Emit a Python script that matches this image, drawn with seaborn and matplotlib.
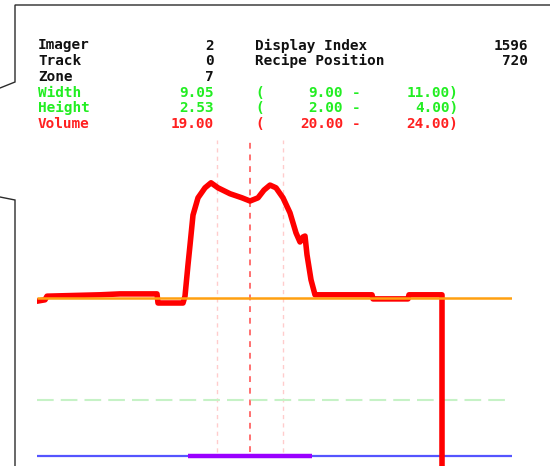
import matplotlib
matplotlib.use("Agg")
import matplotlib.pyplot as plt
from matplotlib.lines import Line2D
import seaborn as sns
import pandas as pd

# ---- header readout -------------------------------------------------------
info_labels = ["Imager", "Track", "Zone"]
info_values = ["2", "0", "7"]
info2_labels = ["Display Index", "Recipe Position"]
info2_values = ["1596", "720"]
meas_labels = ["Width", "Height", "Volume"]
meas_values = ["9.05", "2.53", "19.00"]
meas_low = ["9.00", "2.00", "20.00"]
meas_high = ["11.00", "4.00", "24.00"]
meas_colors = ["#22ee22", "#22ee22", "#ff2020"]

# ---- profile trace (sample position, height) ------------------------------
pos = [0, 8, 10, 63, 83, 120, 121, 146, 148, 151, 153, 156, 161, 168, 174,
       181, 193, 205, 213, 221, 227, 233, 239, 246, 253, 259, 263, 266, 268,
       270, 274, 278, 335, 336, 371, 372, 405, 405]
height = [-0.07, -0.04, 0.04, 0.07, 0.09, 0.09, -0.11, -0.11, 0.04, 0.73,
          1.16, 1.82, 2.20, 2.42, 2.53, 2.42, 2.29, 2.20, 2.13, 2.20, 2.37,
          2.48, 2.42, 2.20, 1.87, 1.43, 1.23, 1.34, 1.36, 0.95, 0.40, 0.07,
          0.07, -0.02, -0.02, 0.07, 0.07, -3.8]

baseline_level = 0.0
lower_limit_level = -2.24
floor_level = -3.47
bead_span = [151, 275]
gate_positions = [180, 213, 246]
gate_styles = ["side", "center", "side"]
x_range = [0, 475]

sns.set_style("white")
plt.rcParams["font.family"] = ["DejaVu Sans Mono", "DejaVu Sans"]

W, H = 550, 466
fig = plt.figure(figsize=(W / 100, H / 100), dpi=100)

# callout frame
def px_line(xs, ys, **kw):
    fig.add_artist(Line2D([x / W for x in xs], [1 - y / H for y in ys],
                          transform=fig.transFigure, **kw))

frame_kw = dict(color="#2b2b2b", lw=1.0, solid_joinstyle="miter")
px_line([0, 15, 15, W], [88, 82, 5, 5], **frame_kw)
px_line([0, 15, 15], [197, 200, H], **frame_kw)

# header text
def px_text(x, y, s, ha="left", color="#111111"):
    fig.text(x / W, 1 - y / H, s, ha=ha, va="center", color=color,
             fontsize=10.4, fontweight="bold")

row_y = [45.5, 61.2, 77.0, 92.7, 108.4, 124.1]
for i, (lab, val) in enumerate(zip(info_labels, info_values)):
    px_text(38, row_y[i], lab)
    px_text(214, row_y[i], val, ha="right")
for i, (lab, val) in enumerate(zip(info2_labels, info2_values)):
    px_text(255, row_y[i], lab)
    px_text(528, row_y[i], val, ha="right")
for i in range(3):
    c = meas_colors[i]
    y = row_y[3 + i]
    px_text(38, y, meas_labels[i], color=c)
    px_text(214, y, meas_values[i], ha="right", color=c)
    px_text(255, y, "(", color=c)
    px_text(343, y, meas_low[i], ha="right", color=c)
    px_text(352, y, "-", color=c)
    px_text(458, y, meas_high[i] + ")", ha="right", color=c)

# profile plot area
ax = fig.add_axes([37 / W, 0, (512 - 37) / W, (H - 140) / H])
ax.set_xlim(*x_range)
ax.set_ylim(-3.69, 3.47)
ax.axis("off")

for gx, st in zip(gate_positions, gate_styles):
    if st == "center":
        ax.vlines(gx, floor_level + 0.09, 3.47, color="#ff7070", lw=1.4,
                  linestyle=(0, (3, 3)))
    else:
        ax.vlines(gx, floor_level + 0.09, 3.47, color="#ffcccc", lw=1.0,
                  linestyle=(0, (3, 3)))

ax.hlines(lower_limit_level, *x_range, color="#c6f2c6", lw=1.5,
          linestyle=(0, (8, 3.4)))
ax.hlines(floor_level, *x_range, color="#5555ff", lw=1.6)
ax.hlines(floor_level, *bead_span, color="#9a00ff", lw=3.2)

df = pd.DataFrame({"pos": pos, "height": height})
sns.lineplot(data=df, x="pos", y="height", ax=ax, sort=False, estimator=None,
             color="#ff0000", lw=4.0, solid_joinstyle="round")

ax.hlines(baseline_level, *x_range, color="#ffa010", lw=1.8, zorder=5)

fig.savefig("out.png", dpi=100)
